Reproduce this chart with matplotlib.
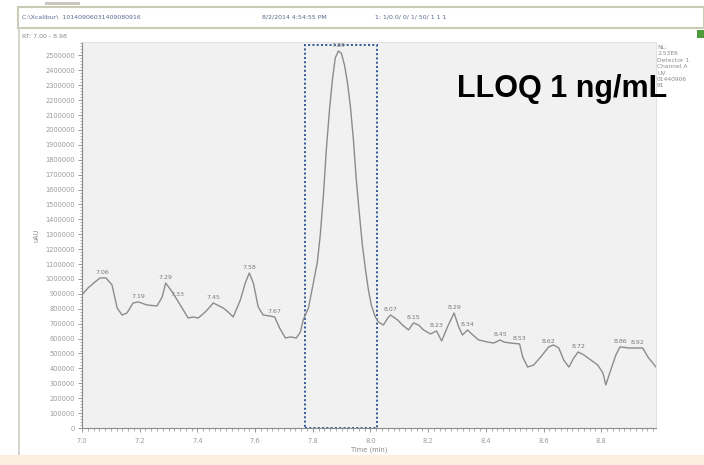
import numpy as np
import matplotlib
matplotlib.use("Agg")
import matplotlib.pyplot as plt
from matplotlib.patches import Rectangle
from matplotlib.ticker import MultipleLocator, FuncFormatter

# chromatogram trace (time in min, signal in uAU)
rt = [7.00, 7.021, 7.045, 7.063, 7.083, 7.104, 7.122, 7.139, 7.156, 7.177,
      7.195, 7.226, 7.260, 7.278, 7.290, 7.313, 7.330, 7.347, 7.368, 7.385,
      7.403, 7.427, 7.440, 7.455, 7.490, 7.507, 7.524, 7.549, 7.566, 7.580,
      7.594, 7.611, 7.628, 7.650, 7.668, 7.685, 7.705, 7.722, 7.743, 7.757,
      7.767, 7.785,
      7.802, 7.816, 7.826, 7.837, 7.847, 7.858, 7.868, 7.878, 7.889, 7.899,
      7.910, 7.920, 7.931, 7.941, 7.951, 7.962, 7.972, 7.983, 7.993, 8.003,
      8.017,
      8.028, 8.045, 8.060, 8.070, 8.094, 8.111, 8.132, 8.149, 8.167, 8.184,
      8.208, 8.229, 8.247, 8.267, 8.290, 8.306, 8.319, 8.337, 8.347, 8.375,
      8.406, 8.427, 8.450, 8.462, 8.486, 8.517, 8.528, 8.545, 8.566, 8.590,
      8.618, 8.635, 8.653, 8.670, 8.688, 8.705, 8.720, 8.740, 8.764, 8.788,
      8.806, 8.816, 8.833, 8.851, 8.865, 8.896, 8.925, 8.944, 8.962, 8.979,
      8.990]
signal = [893000, 940000, 980000, 1007000, 1007000, 960000, 805000, 758000, 772000, 839000,
          846000, 825000, 819000, 879000, 973000, 913000, 859000, 805000, 738000, 745000,
          738000, 778000, 805000, 839000, 805000, 778000, 745000, 859000, 973000, 1040000,
          973000, 812000, 758000, 752000, 745000, 671000, 604000, 611000, 604000, 644000,
          725000, 805000,
          973000, 1114000, 1295000, 1564000, 1866000, 2134000, 2335000, 2483000, 2530000, 2515000,
          2436000, 2322000, 2148000, 1933000, 1664000, 1429000, 1228000, 1060000, 926000, 825000,
          745000,
          711000, 691000, 738000, 758000, 725000, 691000, 658000, 705000, 691000, 658000,
          631000, 651000, 584000, 678000, 772000, 678000, 624000, 658000, 638000, 591000,
          577000, 570000, 591000, 577000, 570000, 564000, 476000, 409000, 423000, 476000,
          544000, 557000, 537000, 456000, 409000, 470000, 510000, 490000, 456000, 423000,
          369000, 289000, 389000, 490000, 544000, 537000, 537000, 537000, 476000, 436000,
          409000]

peak_rt = [7.07, 7.195, 7.29, 7.33, 7.455, 7.58, 7.668, 7.889,
           8.07, 8.149, 8.229, 8.29, 8.337, 8.45, 8.517, 8.618, 8.72, 8.865, 8.925]
peak_labels = ["7.06", "7.19", "7.29", "7.33", "7.45", "7.58", "7.67", "7.89",
               "8.07", "8.15", "8.23", "8.29", "8.34", "8.45", "8.53", "8.62", "8.72", "8.86", "8.92"]

W, H = 704, 465
fig = plt.figure(figsize=(W / 100, H / 100), dpi=100)
fig.patch.set_facecolor("white")

def fx(x):
    return x / W

def fy(y):
    return 1 - y / H

# window frame around the chromatogram
fig.add_artist(Rectangle((fx(18), fy(28)), fx(686), 21 / H, transform=fig.transFigure,
                         facecolor="white", edgecolor="#cbcbb8", lw=1.5))
fig.add_artist(Rectangle((fx(18), fy(455)), fx(2), 427 / H, transform=fig.transFigure,
                         facecolor="#d6d6cc", edgecolor="none"))
fig.add_artist(Rectangle((0, 0), 1, 10 / H, transform=fig.transFigure,
                         facecolor="#fcefe2", edgecolor="none"))
fig.add_artist(Rectangle((fx(45), fy(5)), fx(35), 3 / H, transform=fig.transFigure,
                         facecolor="#c8c8c0", edgecolor="none"))
fig.add_artist(Rectangle((fx(697), fy(38)), fx(7), 8 / H, transform=fig.transFigure,
                         facecolor="#4f9a3a", edgecolor="none"))

hdr = dict(fontsize=4.5, color="#5a6a90", va="center", family="DejaVu Sans")
fig.text(fx(22), fy(17), "C:\\Xcalibur\\  10140906031409080916", **hdr)
fig.text(fx(262), fy(17), "8/2/2014 4:54:55 PM", **hdr)
fig.text(fx(375), fy(17), "1: 1/0.0/ 0/ 1/ 50/ 1 1 1", **hdr)
fig.text(fx(22), fy(36), "RT: 7.00 - 8.98", fontsize=4.5, color="#8a8a8a", va="center")
fig.text(fx(657), fy(45), "NL:\n2.53E6\nDetector 1\nChannel A\nUV\n01440906\n91",
         fontsize=4.3, color="#8a8a8a", va="top", linespacing=1.35)

ax = fig.add_axes([fx(82), fy(428), (656 - 82) / W, (428 - 42) / H])
ax.set_facecolor("#f1f1f1")
ax.plot(rt, signal, color="#8c8c8c", lw=1.0)

for t, lab in zip(peak_rt, peak_labels):
    v = np.interp(t, rt, signal)
    ax.annotate(lab, (t, v), xytext=(0, 2), textcoords="offset points",
                ha="center", va="bottom", fontsize=4.5, color="#7a7a7a")

# integration window around the analyte peak
ax.add_patch(Rectangle((7.774, 0), 8.024 - 7.774, 2570000, fill=False,
                       edgecolor="#2f5597", lw=1.4, ls=(0, (1, 1.2)), clip_on=False))

ax.text(8.663, 2221000, "LLOQ 1 ng/mL", ha="center", va="baseline",
        fontsize=22, fontweight="bold", family="Liberation Sans", color="black")

ax.set_xlim(7.0, 8.99)
ax.set_ylim(0, 2590000)
ax.xaxis.set_major_locator(MultipleLocator(0.2))
ax.xaxis.set_minor_locator(MultipleLocator(0.02))
ax.yaxis.set_major_locator(MultipleLocator(100000))
ax.yaxis.set_minor_locator(MultipleLocator(20000))
ax.xaxis.set_major_formatter(FuncFormatter(lambda v, p: "%.1f" % v))
ax.yaxis.set_major_formatter(FuncFormatter(lambda v, p: "%d" % round(v)))
ax.tick_params(axis="both", which="major", labelsize=4.8, labelcolor="#9a9a9a",
               color="#8a8a8a", length=3, width=0.6, pad=2)
ax.tick_params(axis="both", which="minor", color="#8a8a8a", length=1.8, width=0.5)
ax.tick_params(axis="x", which="major", pad=4)
for s in ["left", "bottom"]:
    ax.spines[s].set_color("#8a8a8a")
    ax.spines[s].set_linewidth(0.8)
for s in ["top", "right"]:
    ax.spines[s].set_color("#e2e2e2")
ax.set_xlabel("Time (min)", fontsize=4.8, color="#8a8a8a", labelpad=2)
ax.set_ylabel("uAU", fontsize=4.8, color="#8a8a8a", labelpad=4)

fig.savefig("out.png", dpi=100)
